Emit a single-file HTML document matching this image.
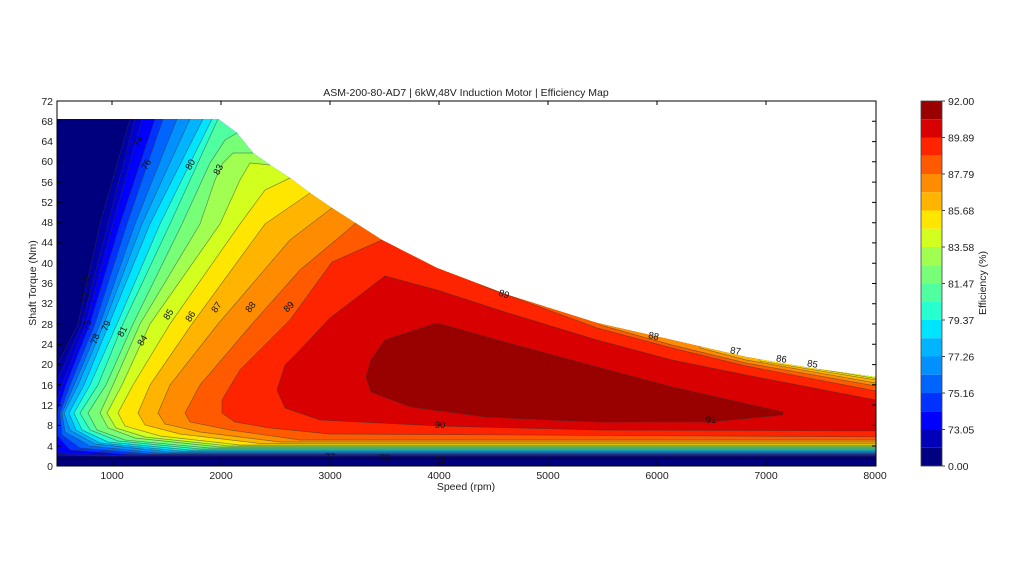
<!DOCTYPE html>
<html><head><meta charset="utf-8"><style>
html,body{margin:0;padding:0;background:#fff;}
svg{display:block;font-family:"Liberation Sans",sans-serif;}
</style></head><body>
<svg width="1024" height="576" viewBox="0 0 1024 576" xmlns="http://www.w3.org/2000/svg">
<defs>
<clipPath id="dom"><polygon points="57,119 218,119 237,133 253,153 270,165 290,178 310,193 332,208 382,240 437,268 508,295 597,323 672,340 746,357 810,368 876,377 876,466 57,466"/></clipPath>
</defs>
<rect width="1024" height="576" fill="#fff"/>
<g clip-path="url(#dom)" stroke="#333" stroke-opacity="0.55" stroke-width="0.7">
<rect x="50" y="100" width="860" height="380" fill="#00007f" stroke="none"/>
<polygon fill="#0000a8" points="130,100 130,119 100,224 78,324 60,360 40,380 40,455 100,456 900,456 900,100"/>
<polygon fill="#0000d0" points="135,100 135,119 108,224 82,324 60,375 40,390 40,454 100,455.5 900,455.5 900,100"/>
<polygon fill="#0000ff" points="142,100 142,119 113,224 86,324 62,385 57,400 40,410 40,452 110,455 900,455 900,100"/>
<polygon fill="#0032ff" points="155,100 155,119 120,224 90,324 66,385 58,410 57,435 70,450 130,454.5 900,454.5 900,100"/>
<polygon fill="#0064ff" points="163,100 163,119 127,224 95,324 70,385 60,413 62,435 80,448 150,454 900,454 900,100"/>
<polygon fill="#0090ff" points="177,100 177,119 135,224 100,324 74,385 62,413 65,432 90,446 160,453 900,453 900,100"/>
<polygon fill="#00b4ff" points="190,100 190,119 142,224 104,324 78,385 64,413 70,430 95,444 170,452 900,452 900,100"/>
<polygon fill="#00e4ff" points="203,100 203,119 150,224 109,324 84,385 69,413 76,430 100,443 180,451 900,451 900,100"/>
<polygon fill="#28ffd0" points="212,100 212,119 160,224 117,324 90,385 74,413 82,430 108,442 190,450 900,450 900,100"/>
<polygon fill="#50ffa0" points="218,100 218,119 170,224 123,324 98,385 80,413 90,430 118,441 200,449 900,449 900,100"/>
<polygon fill="#78ff78" points="237,100 237,133 225,140 210,163 182,224 133,324 106,385 88,413 97,430 125,440 210,448 900,448 900,100"/>
<polygon fill="#a0ff50" points="253,100 253,153 233,153 223,163 215,180 200,224 140,324 113,385 100,413 108,428 135,438 220,447 900,447 900,100"/>
<polygon fill="#d2ff1e" points="270,100 270,165 250,163 240,180 220,224 150,324 122,385 107,413 116,428 145,437 230,446 900,446 900,100"/>
<polygon fill="#ffe600" points="290,100 290,178 265,190 240,224 170,324 133,385 118,413 125,426 160,436 240,445 900,445 900,100"/>
<polygon fill="#ffb400" points="310,100 310,193 265,224 192,324 150,385 138,413 145,425 180,434 260,443.5 900,443.5 900,100"/>
<polygon fill="#ff8c00" points="332,100 332,208 290,240 218,324 170,385 158,413 165,424 200,432 280,442 900,442 900,100"/>
<polygon fill="#ff5a00" points="355,100 355,224 300,270 252,324 200,385 185,413 190,422 230,430 300,440 900,440 900,100"/>
<polygon fill="#ff2400" points="382,100 382,240 332,262 290,320 240,370 222,400 222,413 235,422 270,428 330,434 900,437 900,100"/>
<polygon fill="#d80000" points="385,276 437,290 508,313 597,340 672,360 746,375 876,400 900,400 900,431 600,430 439,426 320,420 285,408 277,390 285,365 300,350 330,318"/>
<polygon fill="#990000" points="385,340 437,323 508,343 597,367 672,387 783,412 783,415 709,422 597,422 486,417 411,407 371,392 366,377 371,360"/>
<polygon fill="#ff5a00" points="480,0 900,0 900,391 876,391 746,366 672,348 597,328 480,285"/>
<polygon fill="#ff8c00" points="600,0 900,0 900,386 876,386 746,363 672,345 600,325"/>
<polygon fill="#ffb400" points="700,0 900,0 900,383 876,383 746,360 700,348"/>
<polygon fill="#ffe600" points="760,0 900,0 900,380 876,380 760,361"/>
<polygon fill="#d2ff1e" points="800,0 900,0 900,378.5 876,378.5 800,366"/>
<line x1="57" y1="459" x2="876" y2="459" stroke="#000" stroke-opacity="0.6"/>
</g>
<g font-size="9.5" fill="#111" text-anchor="middle">
<text transform="translate(141,143) rotate(-62)">74</text>
<text transform="translate(149,166) rotate(-62)">76</text>
<text transform="translate(193,166) rotate(-62)">80</text>
<text transform="translate(221,171) rotate(-62)">83</text>
<text transform="translate(88,282) rotate(-72)">72</text>
<text transform="translate(88,298) rotate(-72)">73</text>
<text transform="translate(90,326) rotate(-72)">75</text>
<text transform="translate(98,340) rotate(-70)">78</text>
<text transform="translate(109,327) rotate(-68)">79</text>
<text transform="translate(125,333) rotate(-62)">81</text>
<text transform="translate(145,342) rotate(-58)">84</text>
<text transform="translate(171,316) rotate(-58)">85</text>
<text transform="translate(193,318) rotate(-58)">86</text>
<text transform="translate(219,309) rotate(-55)">87</text>
<text transform="translate(253,309) rotate(-52)">88</text>
<text transform="translate(291,309) rotate(-45)">89</text>
<text transform="translate(503,297) rotate(18)">89</text>
<text transform="translate(653,339) rotate(12)">88</text>
<text transform="translate(735,354) rotate(10)">87</text>
<text transform="translate(781,362) rotate(10)">86</text>
<text transform="translate(812,367) rotate(10)">85</text>
<text x="440" y="428">90</text>
<text x="711" y="423">91</text>
<text x="330" y="460">77</text>
<text x="384" y="461">78</text>
<text x="440" y="463">72</text>
</g>
<!-- axes -->
<rect x="57" y="101" width="819" height="365" fill="none" stroke="#000" stroke-width="1"/>
<g stroke="#000" stroke-width="1">
<path d="M112,466v-4M221,466v-4M330,466v-4M439,466v-4M548,466v-4M657,466v-4M766,466v-4M112,101v4M221,101v4M330,101v4M439,101v4M548,101v4M657,101v4M766,101v4"/>
<path d="M57,446h4M57,425.4h4M57,405.1h4M57,384.8h4M57,364.6h4M57,344.3h4M57,324h4M57,303.7h4M57,283.5h4M57,263.2h4M57,242.9h4M57,222.7h4M57,202.4h4M57,182.1h4M57,161.8h4M57,141.6h4M57,121.3h4"/>
<path d="M876,446h-4M876,425.4h-4M876,405.1h-4M876,384.8h-4M876,364.6h-4M876,344.3h-4M876,324h-4M876,303.7h-4M876,283.5h-4M876,263.2h-4M876,242.9h-4M876,222.7h-4M876,202.4h-4M876,182.1h-4M876,161.8h-4M876,141.6h-4M876,121.3h-4"/>
</g>
<g font-size="10.5" fill="#222" text-anchor="end">
<text x="53" y="470">0</text><text x="53" y="450">4</text><text x="53" y="429">8</text><text x="53" y="409">12</text><text x="53" y="389">16</text><text x="53" y="368">20</text><text x="53" y="348">24</text><text x="53" y="328">28</text><text x="53" y="307">32</text><text x="53" y="287">36</text><text x="53" y="267">40</text><text x="53" y="246">44</text><text x="53" y="226">48</text><text x="53" y="206">52</text><text x="53" y="186">56</text><text x="53" y="165">60</text><text x="53" y="145">64</text><text x="53" y="125">68</text><text x="53" y="105">72</text>
</g>
<g font-size="10.5" fill="#222" text-anchor="middle">
<text x="112" y="479">1000</text><text x="221" y="479">2000</text><text x="330" y="479">3000</text><text x="439" y="479">4000</text><text x="548" y="479">5000</text><text x="657" y="479">6000</text><text x="766" y="479">7000</text><text x="875" y="479">8000</text>
<text x="466" y="490">Speed  (rpm)</text>
<text x="466" y="96">ASM-200-80-AD7 | 6kW,48V Induction Motor | Efficiency Map</text>
<text transform="translate(36,283) rotate(-90)">Shaft Torque  (Nm)</text>
<text transform="translate(986,283) rotate(-90)">Efficiency (%)</text>
</g>
<!-- colorbar -->
<g>
<rect x="921" y="101" width="21" height="18.25" fill="#990000"/>
<rect x="921" y="119.25" width="21" height="18.25" fill="#d80000"/>
<rect x="921" y="137.5" width="21" height="18.25" fill="#ff2400"/>
<rect x="921" y="155.75" width="21" height="18.25" fill="#ff5a00"/>
<rect x="921" y="174" width="21" height="18.25" fill="#ff8c00"/>
<rect x="921" y="192.25" width="21" height="18.25" fill="#ffb400"/>
<rect x="921" y="210.5" width="21" height="18.25" fill="#ffe600"/>
<rect x="921" y="228.75" width="21" height="18.25" fill="#d2ff1e"/>
<rect x="921" y="247" width="21" height="18.25" fill="#a0ff50"/>
<rect x="921" y="265.25" width="21" height="18.25" fill="#78ff78"/>
<rect x="921" y="283.5" width="21" height="18.25" fill="#50ffa0"/>
<rect x="921" y="301.75" width="21" height="18.25" fill="#28ffd0"/>
<rect x="921" y="320" width="21" height="18.25" fill="#00e4ff"/>
<rect x="921" y="338.25" width="21" height="18.25" fill="#00b4ff"/>
<rect x="921" y="356.5" width="21" height="18.25" fill="#0090ff"/>
<rect x="921" y="374.75" width="21" height="18.25" fill="#0064ff"/>
<rect x="921" y="393" width="21" height="18.25" fill="#0032ff"/>
<rect x="921" y="411.25" width="21" height="18.25" fill="#0000ff"/>
<rect x="921" y="429.5" width="21" height="18.25" fill="#0000b8"/>
<rect x="921" y="447.75" width="21" height="18.25" fill="#000080"/>
<rect x="921" y="101" width="21" height="365" fill="none" stroke="#444" stroke-width="0.8"/>
<path stroke="#444" d="M942,101h3M942,137.5h3M942,174h3M942,210.5h3M942,247h3M942,283.5h3M942,320h3M942,356.5h3M942,393h3M942,429.5h3M942,466h3"/>
</g>
<g font-size="10.5" fill="#222">
<text x="948" y="105">92.00</text><text x="948" y="141.5">89.89</text><text x="948" y="178">87.79</text><text x="948" y="214.5">85.68</text><text x="948" y="251">83.58</text><text x="948" y="287.5">81.47</text><text x="948" y="324">79.37</text><text x="948" y="360.5">77.26</text><text x="948" y="397">75.16</text><text x="948" y="433.5">73.05</text><text x="948" y="470">0.00</text>
</g>
</svg>
</body></html>
